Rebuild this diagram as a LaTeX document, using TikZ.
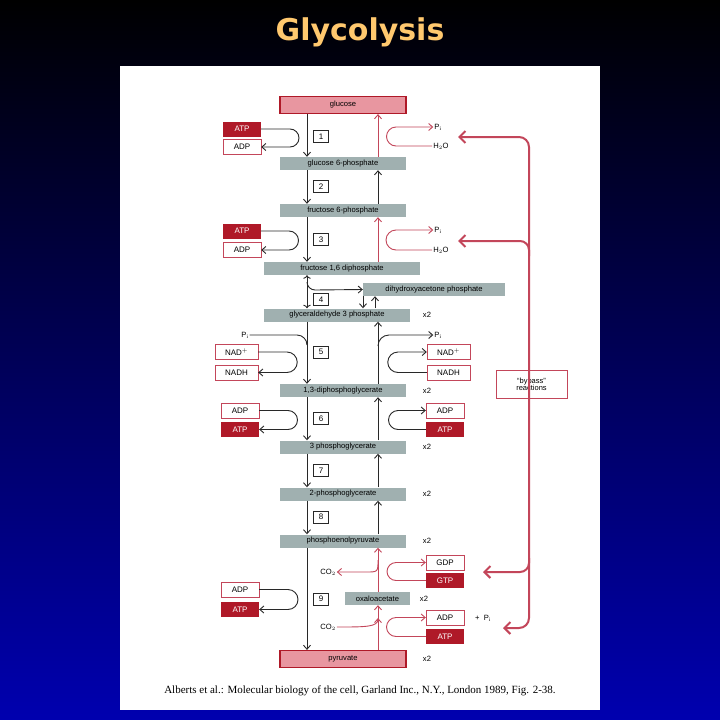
\documentclass[tikz,border=0pt]{standalone}
\usepackage{fontspec}
\setmainfont{Liberation Serif}
\setsansfont{Liberation Sans}
\newfontfamily\titlefont{DejaVu Sans}
\usetikzlibrary{arrows.meta}
\definecolor{ttl}{RGB}{255,200,110}
\definecolor{gry}{RGB}{160,176,176}
\definecolor{pnk}{RGB}{232,150,160}
\definecolor{drd}{RGB}{175,25,40}
\definecolor{lrd}{RGB}{195,70,90}
\definecolor{dkl}{RGB}{40,40,40}
\tikzset{
    GR/.style ={rectangle, fill=gry, minimum height=13pt, inner sep=0pt, font=\sffamily\fontsize{7.6}{8}\selectfont},
    PK/.style ={rectangle, fill=pnk, draw=drd, line width=1.2pt, minimum height=17pt, inner sep=0pt, font=\sffamily\fontsize{7.6}{8}\selectfont},
    AT/.style ={rectangle, fill=drd, text=white, minimum width=38pt, minimum height=15pt, inner sep=0pt, font=\sffamily\fontsize{8}{9}\selectfont},
    AD/.style ={rectangle, fill=white, draw=lrd, minimum width=38pt, minimum height=15pt, inner sep=0pt, font=\sffamily\fontsize{8}{9}\selectfont},
    NB/.style ={rectangle, fill=white, draw=dkl, minimum width=15pt, minimum height=12pt, inner sep=0pt, font=\sffamily\fontsize{8}{9}\selectfont},
    TX/.style ={inner sep=1pt, font=\sffamily\fontsize{7.6}{8}\selectfont},
    dk/.style ={draw=dkl, line width=0.9pt, -{Straight Barb[length=4pt,width=7pt]}},
    rd/.style ={draw=lrd, line width=0.9pt, -{Straight Barb[length=4pt,width=7pt]}},
    br/.style ={draw=lrd, line width=2pt, {Straight Barb[length=6pt,width=12pt]}-{Straight Barb[length=6pt,width=12pt]}}}
\begin{document}
\begin{tikzpicture}[x=1pt,y=-1pt]
    \useasboundingbox (0,0) rectangle (720,720);
    \shade[top color=black, bottom color={rgb,255:red,0;green,0;blue,175}] (0,0) rectangle (720,720);
    \node[text=ttl, font=\titlefont\bfseries\fontsize{30}{32}\selectfont] (title) at (360,32) {Glycolysis};
    \fill[white] (120,66) rectangle (600,710);
    \coordinate (L) at (307,0);
    \coordinate (R) at (378,0);
    % metabolites
    \node[PK, minimum width=126pt] (glc) at (343,105) {glucose};
    \node[GR, minimum width=126pt] (g6p) at (343,163.5) {glucose 6-phosphate};
    \node[GR, minimum width=126pt] (f6p) at (343,210.5) {fructose 6-phosphate};
    \node[GR, minimum width=156pt] (fbp) at (342,268.5) {fructose 1,6 diphosphate};
    \node[GR, minimum width=142pt] (dhap) at (434,289.5) {dihydroxyacetone phosphate};
    \node[GR, minimum width=146pt] (gap) at (337,315) {glyceraldehyde 3 phosphate};
    \node[GR, minimum width=126pt] (bpg) at (343,390.5) {1,3-diphosphoglycerate};
    \node[GR, minimum width=126pt] (pg3) at (343,447) {3 phosphoglycerate};
    \node[GR, minimum width=126pt] (pg2) at (343,494) {2-phosphoglycerate};
    \node[GR, minimum width=126pt] (pep) at (343,541) {phosphoenolpyruvate};
    \node[GR, minimum width=65pt] (oaa) at (377.5,598.5) {oxaloacetate};
    \node[PK, minimum width=126pt] (pyr) at (343,659) {pyruvate};
    \foreach \n/\y in {gap/315, bpg/390.5, pg3/447, pg2/494, pep/541, pyr/659}
        \node[TX] (x\n) at (427,\y) {x2};
    \node[TX] (xoaa) at (424,598.5) {x2};
    % step numbers
    \foreach \k/\y in {1/136.5, 2/186.5, 3/239.5, 4/299.5, 5/352, 6/418.5, 7/470.5, 8/517, 9/599}
        \node[NB] (s\k) at (321,\y) {\k};
    % cofactors
    \node[AT] (atpa) at (242,129) {ATP};
    \node[AD] (adpa) at (242,147) {ADP};
    \node[AT] (atpb) at (242,231) {ATP};
    \node[AD] (adpb) at (242,250) {ADP};
    \node[TX] (pia) at (245,335) {P$_\mathrm{i}$};
    \node[AD, minimum width=43pt] (nada) at (236.5,352) {NAD$^+$};
    \node[AD, minimum width=43pt] (nadha) at (236.5,372.5) {NADH};
    \node[AD] (adpc) at (240,410.5) {ADP};
    \node[AT] (atpc) at (240,429.5) {ATP};
    \node[AD] (adpd) at (240,589.5) {ADP};
    \node[AT] (atpd) at (240,609.5) {ATP};
    \node[TX] (pib) at (438,127) {P$_\mathrm{i}$};
    \node[TX] (h2oa) at (441,146) {H$_2$O};
    \node[TX] (pic) at (438,230) {P$_\mathrm{i}$};
    \node[TX] (h2ob) at (441,250) {H$_2$O};
    \node[TX] (pid) at (438,335) {P$_\mathrm{i}$};
    \node[AD, minimum width=43pt] (nadb) at (448.5,352) {NAD$^+$};
    \node[AD, minimum width=43pt] (nadhb) at (448.5,372.5) {NADH};
    \node[AD] (adpe) at (445,410.5) {ADP};
    \node[AT] (atpe) at (445,429.5) {ATP};
    \node[AD] (gdp) at (445,562.5) {GDP};
    \node[AT] (gtp) at (445,580.5) {GTP};
    \node[TX] (co2a) at (328,572) {CO$_2$};
    \node[TX] (co2b) at (328,627) {CO$_2$};
    \node[AD] (adpf) at (445,617.5) {ADP};
    \node[TX] (plus) at (483,618) {+ \ P$_\mathrm{i}$};
    \node[AT] (atpf) at (445,636.5) {ATP};
    \node[AD, minimum width=71pt, minimum height=28pt, align=center, font=\sffamily\fontsize{7.5}{8}\selectfont] (bypass) at (531.5,384) {``bypass''\\[-1pt]reactions};
    % forward reactions
    \draw[dk] (glc.south -| L) -- (g6p.north -| L);
    \draw[dk] (g6p.south -| L) -- (f6p.north -| L);
    \draw[dk] (f6p.south -| L) -- (fbp.north -| L);
    \draw[dk, <->] (fbp.south -| L) -- (gap.north -| L);
    \draw[dk] (307,282) arc[start angle=180, end angle=90, radius=8] -- (dhap.west);
    \draw[dk] (gap.south -| L) -- (bpg.north -| L);
    \draw[dk] (bpg.south -| L) -- (pg3.north -| L);
    \draw[dk] (pg3.south -| L) -- (pg2.north -| L);
    \draw[dk] (pg2.south -| L) -- (pep.north -| L);
    \draw[dk] (pep.south -| L) -- (pyr.north -| L);
    \draw[dk] (dhap.south -| 363,0) -- (gap.north -| 363,0);
    \draw[dk] (gap.north -| 375,0) -- (dhap.south -| 375,0);
    \draw[dk] (atpa.east) -- (290,129) arc[start angle=-90, end angle=90, radius=9] -- (adpa.east);
    \draw[dk] (atpb.east) -- (289,231) arc[start angle=-90, end angle=90, radius=9.5] -- (adpb.east);
    \draw[dkl, line width=0.9pt] (pia.east) -- (297,335) arc[start angle=-90, end angle=0, radius=10];
    \draw[dk] (nada.east) -- (287,352) arc[start angle=-90, end angle=90, radius=10.25] -- (nadha.east);
    \draw[dk] (adpc.east) -- (288,410.5) arc[start angle=-90, end angle=90, radius=9.5] -- (atpc.east);
    \draw[dk] (adpd.east) -- (288,589.5) arc[start angle=-90, end angle=90, radius=10] -- (atpd.east);
    % reverse reactions
    \draw[rd] (g6p.north -| R) -- (glc.south -| R);
    \draw[dk] (f6p.north -| R) -- (g6p.south -| R);
    \draw[rd] (fbp.north -| R) -- (f6p.south -| R);
    \draw[dk] (bpg.north -| R) -- (gap.south -| R);
    \draw[dk] (pg3.north -| R) -- (bpg.south -| R);
    \draw[dk] (pg2.north -| R) -- (pg3.south -| R);
    \draw[dk] (pep.north -| R) -- (pg2.south -| R);
    \draw[rd] (oaa.north -| R) -- (pep.south -| R);
    \draw[rd] (pyr.north -| R) -- (oaa.south -| R);
    \draw[rd] (h2oa.west) -- (396,146) arc[start angle=90, end angle=270, radius=9.5] -- (pib.west);
    \draw[rd] (h2ob.west) -- (396,250) arc[start angle=90, end angle=270, radius=10] -- (pic.west);
    \draw[dk] (378,346) arc[start angle=180, end angle=270, radius=11] -- (pid.west);
    \draw[dk] (nadhb.west) -- (398,372.5) arc[start angle=90, end angle=270, radius=10.25] -- (nadb.west);
    \draw[dk] (atpe.west) -- (398,429.5) arc[start angle=90, end angle=270, radius=9.5] -- (adpe.west);
    \draw[rd] (gtp.west) -- (396,580.5) arc[start angle=90, end angle=270, radius=9] -- (gdp.west);
    \draw[rd] (378,560) .. controls (378,572) .. (366,572) -- (co2a.east);
    \draw[rd] (co2b.east) .. controls (366,627) and (378,627) .. (378,618);
    \draw[rd] (atpf.west) -- (396,636.5) arc[start angle=90, end angle=270, radius=9.5] -- (adpf.west);
    % bypass bracket
    \draw[br, rounded corners=10] (458,137) -| (529,628) -- (503,628);
    \draw[draw=lrd, line width=2pt, -{Straight Barb[length=6pt,width=12pt]}, rounded corners=9] (529,256) |- (458,241);
    \draw[draw=lrd, line width=2pt, -{Straight Barb[length=6pt,width=12pt]}, rounded corners=9] (529,558) |- (483,572);
    % reference
    \node[font=\fontsize{11}{12}\selectfont] (cite) at (360,691) {Alberts et al.: Molecular biology of the cell, Garland Inc., N.Y., London 1989, Fig. 2-38.};
\end{tikzpicture}
\end{document}
